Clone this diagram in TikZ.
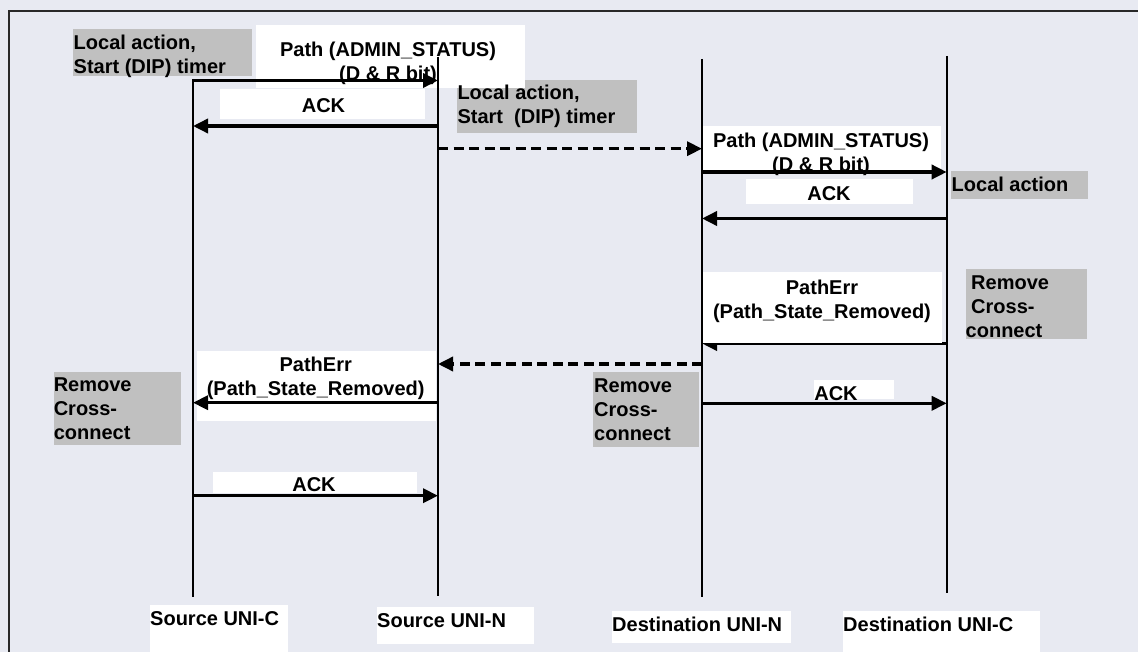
\documentclass[tikz,border=0pt]{standalone}
\usepackage{fontspec}
\setmainfont{Liberation Sans}
\usetikzlibrary{arrows.meta}
\definecolor{bgc}{RGB}{232,234,242}
\definecolor{boxgray}{RGB}{192,192,192}
\definecolor{framec}{RGB}{40,40,40}
\tikzset{
  lbl/.style={font=\fontsize{20}{24}\selectfont\bfseries, inner sep=0pt, text=black},
  gbox/.style={fill=boxgray, draw=none, inner sep=0pt, anchor=north west},
  wbox/.style={fill=white, draw=none, inner sep=0pt, anchor=north west},
  life/.style={line width=2pt, black},
  msg/.style={line width=3.5pt, black, -{Triangle[length=15pt,width=14pt]}},
  dmsg/.style={msg, dash pattern=on 10pt off 5.5pt},
}
\begin{document}
\begin{tikzpicture}[x=1pt,y=-1pt]
\useasboundingbox (0,0) rectangle (1138,652);
\fill[bgc] (0,0) rectangle (1138,652);
% frame
\coordinate (frtr) at (1138,10.7);
\coordinate (frtl) at (8.6,10.7);
\coordinate (frbl) at (8.6,652);
\draw[framec, line width=1.8pt] (frtr) -- (frtl) -- (frbl);

% gray boxes
\node[gbox, minimum width=179pt, minimum height=47pt] (g1) at (73,29) {};
\node[gbox, minimum width=180pt, minimum height=53pt] (g2) at (457,80) {};
\node[gbox, minimum width=137pt, minimum height=28pt] (g3) at (951,171) {};
\node[gbox, minimum width=121.5pt, minimum height=70pt] (g4) at (965.5,269) {};
\node[gbox, minimum width=127.4pt, minimum height=73pt] (g5) at (53.6,372) {};
\node[gbox, minimum width=106pt, minimum height=75pt] (g6) at (593,371.7) {};

% white boxes
\node[wbox, minimum width=269pt, minimum height=63pt] (w1) at (256,25) {};
\node[wbox, minimum width=205.4pt, minimum height=30pt] (w2) at (219.6,89.3) {};
\node[wbox, minimum width=239pt, minimum height=46pt] (w3) at (702,126) {};
\node[wbox, minimum width=167pt, minimum height=24.7pt] (w4) at (746,179) {};
\node[wbox, minimum width=239pt, minimum height=69.7pt] (w6) at (197,351) {};
\node[wbox, minimum width=80.4pt, minimum height=19pt] (w7) at (813.6,380) {};
\node[wbox, minimum width=204.5pt, minimum height=21.3pt] (w8) at (212.5,471.7) {};
\node[wbox, minimum width=138pt, minimum height=47pt] (w9) at (150,605) {};
\node[wbox, minimum width=157.4pt, minimum height=37pt] (w10) at (376.6,607) {};
\node[wbox, minimum width=179.3pt, minimum height=31.7pt] (w11) at (611.7,611) {};
\node[wbox, minimum width=197pt, minimum height=41pt] (w12) at (843,611) {};

% texts
\node[lbl, anchor=north west, align=left] (t1) at (73.5,34.5) {Local action,\\Start (DIP) timer};
\node[lbl, anchor=north, align=center] (t2) at (388,41.5) {Path (ADMIN\_STATUS)\\(D \& R bit)};
\node[lbl, anchor=north] (t3) at (323.5,98) {ACK};
\node[lbl, anchor=north west, align=left] (t4) at (457.3,85) {Local action,\\Start\ \ (DIP) timer};
\node[lbl, anchor=north, align=center] (t5) at (821,132.5) {Path (ADMIN\_STATUS)\\(D \& R bit)};
\node[lbl, anchor=north west] (t6) at (951.5,176.5) {Local action};
\node[lbl, anchor=north] (t7) at (829,186) {ACK};
\node[lbl, anchor=north west, align=left] (t9) at (965.5,276) {\hspace*{5.5pt}Remove\\\hspace*{5.5pt}Cross-\\connect};
\node[lbl, anchor=north, align=center] (t10) at (315.7,356.5) {PathErr\\(Path\_State\_Removed)};
\node[lbl, anchor=north west, align=left] (t11) at (53.6,378) {Remove\\Cross-\\connect};
\node[lbl, anchor=north west, align=left] (t12) at (594,378.3) {Remove\\Cross-\\connect};
\node[lbl, anchor=north] (t13) at (836,386.7) {ACK};
\node[lbl, anchor=north] (t14) at (314,477.5) {ACK};
\node[lbl, anchor=north west] (t15) at (150,611) {Source UNI-C};
\node[lbl, anchor=north west] (t16) at (377,613.3) {Source UNI-N};
\node[lbl, anchor=north west] (t17) at (612,617.3) {Destination UNI-N};
\node[lbl, anchor=north west] (t18) at (843,617) {Destination UNI-C};

% message end points
\coordinate (m1a) at (193,80.5);   \coordinate (m1b) at (438,80.5);
\coordinate (m2a) at (438,126);    \coordinate (m2b) at (193,126);
\coordinate (m3a) at (438,148.7);  \coordinate (m3b) at (702,148.7);
\coordinate (m4a) at (702,172);    \coordinate (m4b) at (946.7,172);
\coordinate (m5a) at (946.7,218.5);\coordinate (m5b) at (702,218.5);
\coordinate (m6a) at (946.7,343.5);\coordinate (m6b) at (702,343.5);
\coordinate (m7a) at (702,364);    \coordinate (m7b) at (438,364);
\coordinate (m8a) at (438,402.7);  \coordinate (m8b) at (193,402.7);
\coordinate (m9a) at (702,403.3);  \coordinate (m9b) at (946.7,403.3);
\coordinate (m10a) at (193,495.7); \coordinate (m10b) at (438,495.7);

% PathErr from destination UNI-C, its label box lies over the arrow head
\draw[msg] (m6a) -- (m6b);
\node[wbox, minimum width=239.5pt, minimum height=70.7pt] (w5) at (702,272) {};
\node[lbl, anchor=north, align=center] (t8) at (822,280) {PathErr\\(Path\_State\_Removed)};

% lifelines
\coordinate (sctop) at (193,79);   \coordinate (scbot) at (193,597);
\coordinate (sntop) at (438,56.7); \coordinate (snbot) at (438,596);
\coordinate (dntop) at (702,59);   \coordinate (dnbot) at (702,597);
\coordinate (dctop) at (946.7,56); \coordinate (dcbot) at (946.7,592.7);
\draw[life] (sctop) -- (scbot);
\draw[life] (sntop) -- (snbot);
\draw[life] (dntop) -- (dnbot);
\draw[life] (dctop) -- (dcbot);

% messages
\draw[msg] (m1a) -- (m1b);
\draw[msg] (m2a) -- (m2b);
\draw[dmsg] (m3a) -- (m3b);
\draw[msg] (m4a) -- (m4b);
\draw[msg] (m5a) -- (m5b);
\draw[dmsg] (m7a) -- (m7b);
\draw[msg] (m8a) -- (m8b);
\draw[msg] (m9a) -- (m9b);
\draw[msg] (m10a) -- (m10b);
\end{tikzpicture}
\end{document}
